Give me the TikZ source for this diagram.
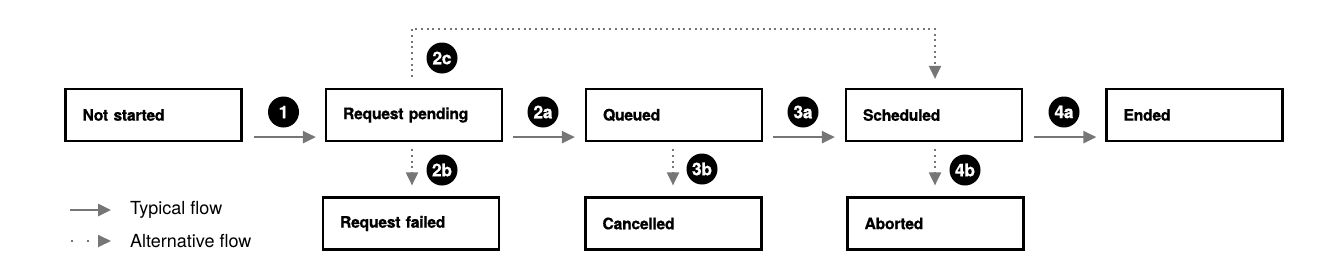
\documentclass[tikz,border=0pt]{standalone}
\usepackage{fontspec}
\setmainfont{TeX Gyre Heros}
\newfontface\heavyface{texgyreheros-bold.otf}[FakeBold=0.6,LetterSpace=-2]
\usetikzlibrary{arrows.meta,calc}
\definecolor{flowgrey}{HTML}{767676}
\begin{document}
\begin{tikzpicture}[x=1pt,y=-1pt,
  statebox/.style={draw=black,line width=2.2pt,fill=white,minimum height=52pt,
    text width=142pt,inner xsep=17pt,inner ysep=0pt,align=left,
    font=\fontsize{15.8}{18}\heavyface},
  badge/.style={circle,fill=black,minimum size=31pt,inner sep=0pt,text=white,
    font=\fontsize{17.5}{18}\heavyface},
  typflow/.style={draw=flowgrey,line width=2.3pt,-{Triangle[length=13pt,width=12pt]}},
  altflow/.style={draw=flowgrey,line width=2pt,line cap=butt,dash pattern=on 2pt off 3.7pt,
    -{Triangle[length=13pt,width=12pt,line join=miter]}},
  legtext/.style={anchor=west,inner sep=0pt,font=\fontsize{18}{20}\selectfont}
]
\useasboundingbox (0,0) rectangle (1336,276);
% main row
\node[statebox] (ns) at (153.5,115) {Not started};
\node[statebox] (rp) at (414,115) {Request pending};
\node[statebox] (q)  at (674,115) {Queued};
\node[statebox] (s)  at (934,115) {Scheduled};
\node[statebox] (e)  at (1194.5,115) {Ended};
% lower row
\node[statebox] (rf) at (411,223.5) {Request failed};
\node[statebox] (c)  at (673.5,223.5) {Cancelled};
\node[statebox] (a)  at (935.5,223.5) {Aborted};
% typical flow
\draw[typflow] ([xshift=11pt,yshift=5pt]ns.south east) -- ([xshift=-9pt,yshift=5pt]rp.south west);
\draw[typflow] ([xshift=10pt,yshift=5pt]rp.south east) -- ([xshift=-10pt,yshift=5pt]q.south west);
\draw[typflow] ([xshift=10pt,yshift=5pt]q.south east) -- ([xshift=-10pt,yshift=5pt]s.south west);
\draw[typflow] ([xshift=11pt,yshift=5pt]s.south east) -- ([xshift=-9pt,yshift=5pt]e.south west);
% alternative flow
\draw[altflow] ([xshift=-2pt,yshift=-7pt]rp.south) -- ([xshift=1pt,yshift=11pt]rf.north);
\draw[altflow] ([xshift=-1pt,yshift=-7pt]q.south) -- ([xshift=-0.5pt,yshift=11pt]c.north);
\draw[altflow] ([xshift=1pt,yshift=-7pt]s.south) -- ([xshift=-0.5pt,yshift=11pt]a.north);
\draw[altflow] ([xshift=-2pt,yshift=11pt]rp.north) -- ++(0,-48) -| ([xshift=1pt,yshift=9pt]s.north);
% badges
\node[badge] (b1)  at (283.5,112) {1};
\node[badge] (b2a) at (543,112) {2a};
\node[badge] (b3a) at (803,112) {3a};
\node[badge] (b4a) at (1064,112) {4a};
\node[badge] (b2c) at (442,58) {2c};
\node[badge] (b2b) at (442,170) {2b};
\node[badge] (b3b) at (702,169) {3b};
\node[badge] (b4b) at (965,170) {4b};
% legend
\coordinate (lta) at (70,210);
\coordinate (ltb) at (111,210);
\coordinate (laa) at (71,241);
\coordinate (lab) at (111,241);
\draw[typflow,line width=2.7pt] (lta) -- (ltb);
\draw[altflow,dash pattern=on 2pt off 14pt] (laa) -- (lab);
\node[legtext] (lt) at (130,210) {Typical flow};
\node[legtext] (la) at (130,241) {Alternative flow};
\end{tikzpicture}
\end{document}
